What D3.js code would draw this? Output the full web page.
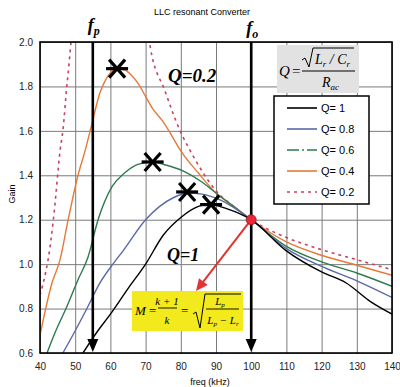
<!DOCTYPE html>
<html>
<head>
<meta charset="utf-8">
<script src="https://cdn.jsdelivr.net/npm/d3@7"></script>
<style>
  body { margin: 0; background: #fff; }
  svg { display: block; }
  .tick text { font-family: "Liberation Sans", Arial, sans-serif; font-size: 10px; fill: #222; }
  .ser { font-family: "Liberation Serif", "Times New Roman", serif; font-style: italic; }
</style>
</head>
<body>
<div id="chart"></div>
<script>
// values (freq kHz / gain)
var xTicks = [40, 50, 60, 70, 80, 90, 100, 110, 120, 130, 140];
var yTicks = [0.6, 0.8, 1.0, 1.2, 1.4, 1.6, 1.8, 2.0];

var q1F = [52.2, 56, 60, 65, 70, 75, 80, 85, 88, 93, 100, 110, 120, 127, 134, 140];
var q1G = [0.6, 0.69, 0.775, 0.89, 1.0, 1.13, 1.21, 1.26, 1.27, 1.25, 1.2, 1.06, 0.965, 0.915, 0.83, 0.775];

var q08F = [46.5, 50, 53, 57, 60.7, 63.6, 70, 74, 78, 82, 86, 91, 100, 110, 120, 130, 140];
var q08G = [0.6, 0.7, 0.79, 0.915, 1.0, 1.06, 1.2, 1.26, 1.3, 1.32, 1.315, 1.29, 1.2, 1.07, 0.99, 0.925, 0.85];

var q06F = [42, 44.5, 47.1, 50.8, 53.6, 56.5, 60.5, 64, 68, 72, 76, 80.6, 86, 90, 95, 100, 110, 120, 130, 140];
var q06G = [0.6, 0.7, 0.79, 0.93, 1.03, 1.2, 1.35, 1.41, 1.45, 1.46, 1.445, 1.42, 1.37, 1.32, 1.26, 1.2, 1.08, 1.01, 0.96, 0.9];

var q04F = [40, 43.4, 45.7, 48, 50.8, 52.8, 54.8, 57, 59, 62, 64, 66, 68, 70, 72, 75, 77, 80, 85, 90, 95, 100, 110, 120, 130, 140];
var q04G = [0.68, 0.915, 1.02, 1.2, 1.4, 1.51, 1.635, 1.77, 1.84, 1.88, 1.875, 1.85, 1.81, 1.755, 1.7, 1.64, 1.59, 1.51, 1.41, 1.32, 1.26, 1.2, 1.1, 1.04, 0.995, 0.95];

var q02LeftF = [40, 41, 42.3, 43.8, 45.7, 46.5, 47.6, 48, 48.8, 49.2];
var q02LeftG = [0.86, 0.92, 1.02, 1.2, 1.51, 1.6, 1.8, 1.86, 2.0, 2.08];
var q02RightF = [70.6, 71.3, 75.5, 79.8, 82.7, 86, 90, 95, 100, 110, 120, 130, 140];
var q02RightG = [2.08, 1.98, 1.78, 1.6, 1.51, 1.42, 1.33, 1.26, 1.2, 1.12, 1.065, 1.02, 0.975];

var peakF = [61.9, 72, 81.8, 88.6];
var peakG = [1.88, 1.46, 1.325, 1.268];

var legendNames = ["Q= 1", "Q= 0.8", "Q= 0.6", "Q= 0.4", "Q= 0.2"];
var colors = ["#000000", "#5b6aa6", "#2f7a4e", "#e57a38", "#c8435e"];
var dashes = [null, null, "12,3,2,3", null, "3,4"];

var fp = 55, fo = 100, crossG = 1.2;

var width = 400, height = 387;
var pLeft = 40, pRight = 392, pTop = 42, pBottom = 353;

var svg = d3.select("#chart").append("svg")
  .attr("width", width)
  .attr("height", height);

var x = d3.scaleLinear().domain([40, 140]).range([pLeft, pRight]);
var y = d3.scaleLinear().domain([0.6, 2.0]).range([pBottom, pTop]);

svg.append("defs").append("clipPath").attr("id", "plotclip")
  .append("rect").attr("x", pLeft).attr("y", pTop)
  .attr("width", pRight - pLeft).attr("height", pBottom - pTop);

// grid
svg.append("g")
  .attr("transform", "translate(0," + pBottom + ")")
  .call(d3.axisBottom(x).tickValues(xTicks).tickSize(-(pBottom - pTop)).tickFormat(""))
  .call(function(g) {
    g.select(".domain").remove();
    g.selectAll("line").attr("stroke", "#7a7a7a").attr("stroke-width", 1);
  });
svg.append("g")
  .attr("transform", "translate(" + pLeft + ",0)")
  .call(d3.axisLeft(y).tickValues(yTicks).tickSize(-(pRight - pLeft)).tickFormat(""))
  .call(function(g) {
    g.select(".domain").remove();
    g.selectAll("line").attr("stroke", "#7a7a7a").attr("stroke-width", 1);
  });

// tick labels
svg.append("g")
  .attr("transform", "translate(0," + pBottom + ")")
  .call(d3.axisBottom(x).tickValues(xTicks).tickSize(0).tickPadding(10))
  .call(function(g) { g.select(".domain").remove(); });
svg.append("g")
  .attr("transform", "translate(" + pLeft + ",0)")
  .call(d3.axisLeft(y).tickValues(yTicks).tickSize(0).tickPadding(7).tickFormat(d3.format(".1f")))
  .call(function(g) { g.select(".domain").remove(); });

svg.append("text")
  .attr("x", 210).attr("y", 385)
  .attr("text-anchor", "middle")
  .style("font-family", "Liberation Sans, Arial, sans-serif")
  .style("font-size", "9px")
  .text("freq (kHz)");

svg.append("text")
  .attr("transform", "translate(15,194) rotate(-90)")
  .attr("text-anchor", "middle")
  .style("font-family", "Liberation Sans, Arial, sans-serif")
  .style("font-size", "9px")
  .text("Gain");

svg.append("text")
  .attr("x", 202).attr("y", 15)
  .attr("text-anchor", "middle")
  .style("font-family", "Liberation Sans, Arial, sans-serif")
  .style("font-size", "9px")
  .text("LLC resonant Converter");

// curves
var line = d3.line()
  .x(function(d) { return x(d[0]); })
  .y(function(d) { return y(d[1]); })
  .curve(d3.curveMonotoneX);

var lineY = d3.line()
  .x(function(d) { return x(d[0]); })
  .y(function(d) { return y(d[1]); })
  .curve(d3.curveCatmullRom);

function zip(fs, gs) {
  return fs.map(function(f, i) { return [f, gs[i]]; });
}

var curves = [
  { pts: zip(q02LeftF, q02LeftG), c: 4, mono: false },
  { pts: zip(q02RightF, q02RightG), c: 4 },
  { pts: zip(q04F, q04G), c: 3 },
  { pts: zip(q06F, q06G), c: 2 },
  { pts: zip(q08F, q08G), c: 1 },
  { pts: zip(q1F, q1G), c: 0 }
];

var plot = svg.append("g").attr("clip-path", "url(#plotclip)");

curves.forEach(function(s) {
  plot.append("path")
    .attr("d", s.mono === false ? lineY(s.pts) : line(s.pts))
    .attr("fill", "none")
    .attr("stroke", colors[s.c])
    .attr("stroke-width", s.c === 4 ? 1.6 : 1.4)
    .attr("stroke-dasharray", s.c === 4 ? dashes[4] : null);
});

// plot frame
svg.append("rect")
  .attr("x", pLeft).attr("y", pTop)
  .attr("width", pRight - pLeft).attr("height", pBottom - pTop)
  .attr("fill", "none").attr("stroke", "#000").attr("stroke-width", 1.6);

// fp and fo arrows
[fp, fo].forEach(function(f) {
  var px = x(f);
  svg.append("line")
    .attr("x1", px).attr("x2", px)
    .attr("y1", pTop).attr("y2", pBottom - 12)
    .attr("stroke", "#000").attr("stroke-width", 2.6);
  svg.append("path")
    .attr("d", "M" + (px - 5.5) + "," + (pBottom - 14) + "L" + (px + 5.5) + "," + (pBottom - 14) + "L" + px + "," + (pBottom - 1) + "Z")
    .attr("fill", "#000");
});

function subLabel(px, py, main, sub) {
  var t = svg.append("text").attr("x", px).attr("y", py)
    .attr("class", "ser")
    .attr("text-anchor", "middle")
    .style("font-size", "18px").style("font-weight", "bold");
  t.append("tspan").text(main);
  t.append("tspan").attr("dy", 4).style("font-size", "12px").text(sub);
}
subLabel(x(fp) + 1, 31, "f", "p");
subLabel(x(fo) + 1, 34, "f", "o");

// peak markers
peakF.forEach(function(f, i) {
  var cx = x(f), cy = y(peakG[i]);
  var g = svg.append("g").attr("stroke", "#000").attr("stroke-width", 3.2).attr("stroke-linecap", "butt");
  g.append("line").attr("x1", cx - 11).attr("x2", cx + 11).attr("y1", cy).attr("y2", cy);
  g.append("line").attr("x1", cx - 8).attr("x2", cx + 8).attr("y1", cy - 9).attr("y2", cy + 9);
  g.append("line").attr("x1", cx - 8).attr("x2", cx + 8).attr("y1", cy + 9).attr("y2", cy - 9);
});

// Q labels
svg.append("text").attr("x", 168).attr("y", 82)
  .attr("class", "ser").style("font-size", "19px").style("font-weight", "bold")
  .text("Q=0.2");
svg.append("text").attr("x", 167).attr("y", 261)
  .attr("class", "ser").style("font-size", "18px").style("font-weight", "bold")
  .text("Q=1");

// red arrow from crossing point
var rx = x(fo), ry = y(crossG);
var tipX = 196, tipY = 291;
var ang = Math.atan2(tipY - ry, tipX - rx);
svg.append("line")
  .attr("x1", rx).attr("y1", ry)
  .attr("x2", tipX - 10 * Math.cos(ang)).attr("y2", tipY - 10 * Math.sin(ang))
  .attr("stroke", "#e53232").attr("stroke-width", 2);
var ah = 12, aw = 5.5;
var bx = tipX - ah * Math.cos(ang), by = tipY - ah * Math.sin(ang);
svg.append("path")
  .attr("d", "M" + tipX + "," + tipY +
    "L" + (bx + aw * Math.sin(ang)) + "," + (by - aw * Math.cos(ang)) +
    "L" + (bx - aw * Math.sin(ang)) + "," + (by + aw * Math.cos(ang)) + "Z")
  .attr("fill", "#e53232");
svg.append("circle")
  .attr("cx", rx).attr("cy", ry).attr("r", 5)
  .attr("fill", "#e8283a").attr("stroke", "#8a1a1a").attr("stroke-width", 0.8);

// Q formula box
var qb = svg.append("g");
qb.append("rect").attr("x", 277).attr("y", 45).attr("width", 82).attr("height", 48).attr("fill", "#e2e2e2");
qb.append("text").attr("x", 279).attr("y", 76).attr("class", "ser").style("font-size", "15px").text("Q");
qb.append("text").attr("x", 292).attr("y", 76).style("font-family", "Liberation Serif, serif").style("font-size", "15px").text("=");
qb.append("path").attr("d", "M302,60 L305,58 L309,67 L313,48 L354,48")
  .attr("fill", "none").attr("stroke", "#000").attr("stroke-width", 1);
var lt = qb.append("text").attr("x", 315).attr("y", 64).attr("class", "ser").style("font-size", "14px");
lt.append("tspan").text("L");
lt.append("tspan").attr("dy", 3).style("font-size", "9px").text("r");
lt.append("tspan").attr("dy", -3).text(" / C");
lt.append("tspan").attr("dy", 3).style("font-size", "9px").text("r");
qb.append("line").attr("x1", 302).attr("x2", 355).attr("y1", 71).attr("y2", 71).attr("stroke", "#000").attr("stroke-width", 1);
var rt = qb.append("text").attr("x", 322).attr("y", 87).attr("class", "ser").style("font-size", "14px");
rt.append("tspan").text("R");
rt.append("tspan").attr("dy", 3).style("font-size", "9px").text("ac");

// legend
var lg = svg.append("g");
lg.append("rect").attr("x", 274).attr("y", 96).attr("width", 95).attr("height", 108)
  .attr("fill", "#fff").attr("stroke", "#000").attr("stroke-width", 1.5);
legendNames.forEach(function(name, i) {
  var ly = 108 + i * 21;
  lg.append("line").attr("x1", 287).attr("x2", 317).attr("y1", ly).attr("y2", ly)
    .attr("stroke", colors[i]).attr("stroke-width", 1.6)
    .attr("stroke-dasharray", dashes[i]);
  lg.append("text").attr("x", 321).attr("y", ly + 4)
    .style("font-family", "Liberation Sans, Arial, sans-serif").style("font-size", "11px")
    .text(name);
});

// M formula box
var mb = svg.append("g");
mb.append("rect").attr("x", 132).attr("y", 291).attr("width", 111).attr("height", 40).attr("fill", "#f2ea1c");
mb.append("text").attr("x", 135).attr("y", 315).attr("class", "ser").style("font-size", "13px").text("M");
mb.append("text").attr("x", 149).attr("y", 315).style("font-family", "Liberation Serif, serif").style("font-size", "13px").text("=");
mb.append("text").attr("x", 167).attr("y", 305).attr("text-anchor", "middle").attr("class", "ser").style("font-size", "11px").text("k + 1");
mb.append("line").attr("x1", 158).attr("x2", 177).attr("y1", 308).attr("y2", 308).attr("stroke", "#000").attr("stroke-width", 0.9);
mb.append("text").attr("x", 167).attr("y", 324).attr("text-anchor", "middle").attr("class", "ser").style("font-size", "11px").text("k");
mb.append("text").attr("x", 181).attr("y", 315).style("font-family", "Liberation Serif, serif").style("font-size", "13px").text("=");
mb.append("path").attr("d", "M193,314 L196,312 L200,328 L205,294 L241,294")
  .attr("fill", "none").attr("stroke", "#000").attr("stroke-width", 1);
var lp = mb.append("text").attr("x", 220).attr("y", 305).attr("text-anchor", "middle").attr("class", "ser").style("font-size", "11px");
lp.append("tspan").text("L");
lp.append("tspan").attr("dy", 2).style("font-size", "7px").text("p");
mb.append("line").attr("x1", 206).attr("x2", 239).attr("y1", 309).attr("y2", 309).attr("stroke", "#000").attr("stroke-width", 0.9);
var lpr = mb.append("text").attr("x", 223).attr("y", 324).attr("text-anchor", "middle").attr("class", "ser").style("font-size", "11px");
lpr.append("tspan").text("L");
lpr.append("tspan").attr("dy", 2).style("font-size", "7px").text("p");
lpr.append("tspan").attr("dy", -2).text(" − L");
lpr.append("tspan").attr("dy", 2).style("font-size", "7px").text("r");
</script>
</body>
</html>
